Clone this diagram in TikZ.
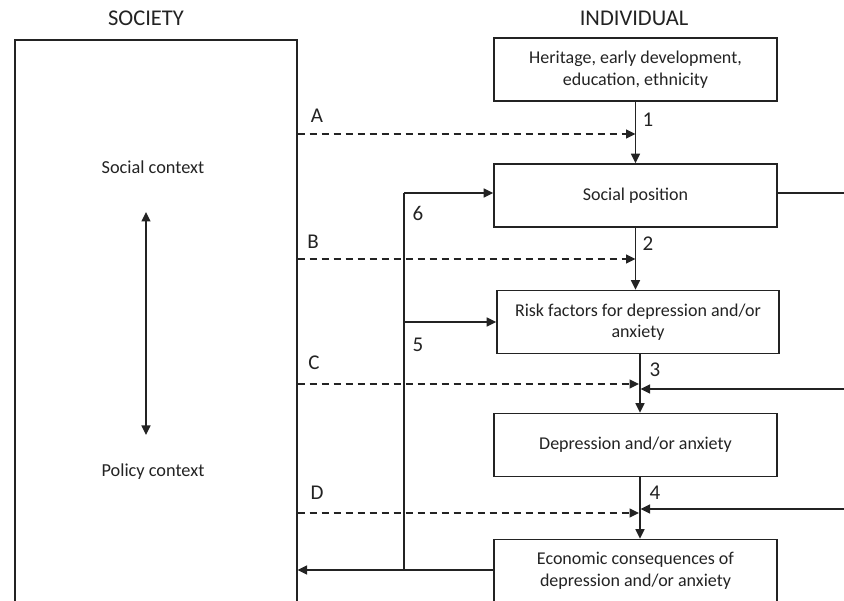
\documentclass[tikz,border=0pt]{standalone}
\usepackage{fontspec}
\setmainfont{Carlito}
\usetikzlibrary{arrows.meta}
\definecolor{ink}{RGB}{35,35,35}
\begin{document}
\begin{tikzpicture}[x=1pt,y=-1pt,
  every node/.style={text=ink},
  box/.style={draw=ink, line width=1.6pt, minimum width=283pt, minimum height=63pt, inner sep=0pt, align=center, font=\fontsize{18}{21.5}\selectfont},
  ln/.style={draw=ink, line width=1.6pt},
  tip/.tip={Triangle[length=9.5pt,width=9pt]},
  arr/.style={ln, -tip},
  darr/.style={ln, dash pattern=on 7pt off 5pt, -tip},
  hd/.style={font=\fontsize{22.5}{26}\selectfont, inner sep=0pt},
  lbl/.style={font=\fontsize{21}{24}\selectfont, inner sep=0pt},
  ctx/.style={font=\fontsize{18.3}{21}\selectfont, inner sep=0pt}]
\useasboundingbox (0,0) rectangle (844,601);
\clip (0,0) rectangle (844,601);
\fill[white] (0,0) rectangle (844,601);

% headings
\node[hd] (hsoc) at (146,18) {SOCIETY};
\node[hd] (hind) at (634,18) {INDIVIDUAL};

% society box
\node[draw=ink, line width=1.6pt, minimum width=282pt, minimum height=640pt, anchor=north west, inner sep=0pt] (society) at (14,39) {};
\node[ctx] (sctx) at (153,167) {Social context};
\node[ctx] (pctx) at (153,472) {Policy context};
\coordinate (dA) at (146,212);
\coordinate (dB) at (146,435);
\draw[ln, tip-tip] (dA) -- (dB);

% individual boxes
\node[box] (her) at (635.5,69.5) {Heritage, early development,\\education, ethnicity};
\node[box] (soc) at (635.5,195.5) {Social position};
\node[box, minimum width=282pt] (risk) at (638,322) {Risk factors for depression and/or\\anxiety};
\node[box] (dep) at (635.5,445) {Depression and/or anxiety};
\node[box] (eco) at (635.5,571) {Economic consequences of\\depression and/or anxiety};

% vertical arrows
\draw[arr] (her.south) -- (her.south |- soc.north);
\draw[arr] (soc.south) -- (soc.south |- risk.north);
\draw[arr] ([xshift=2pt]risk.south) -- ([xshift=2pt]risk.south |- dep.north);
\draw[arr] ([xshift=4.5pt]dep.south) -- ([xshift=4.5pt]dep.south |- eco.north);

% dashed arrows from society
\coordinate (a1) at (635.5,134);
\coordinate (b1) at (635.5,259);
\coordinate (c1) at (639,384);
\coordinate (d1) at (639,513);
\draw[darr] (society.east |- a1) -- (a1);
\draw[darr] (society.east |- b1) -- (b1);
\draw[darr] (society.east |- c1) -- (c1);
\draw[darr] (society.east |- d1) -- (d1);

% feedback lines 5 and 6
\coordinate (v6) at (404,193);
\coordinate (v5) at (404,322);
\coordinate (vb) at (404,570);
\draw[ln] (v6) -- (vb);
\draw[arr] (v6) -- (soc.west |- v6);
\draw[arr] (v5) -- (risk.west |- v5);
\draw[arr] (eco.west |- vb) -- (society.east |- vb);

% right-hand lines
\coordinate (r1) at (850,193);
\coordinate (r3) at (850,389);
\coordinate (r4) at (850,509);
\coordinate (t3) at (640.5,389);
\coordinate (t4) at (640.5,509);
\draw[ln] (soc.east |- r1) -- (r1);
\draw[arr] (r3) -- (t3);
\draw[arr] (r4) -- (t4);

% labels
\node[lbl] (lA) at (317,116) {A};
\node[lbl] (lB) at (313,242) {B};
\node[lbl] (lC) at (314,363) {C};
\node[lbl] (lD) at (317,493) {D};
\node[lbl] (l1) at (648,120) {1};
\node[lbl] (l2) at (648,244) {2};
\node[lbl] (l3) at (655,370) {3};
\node[lbl] (l4) at (655,493) {4};
\node[lbl] (l5) at (418,345) {5};
\node[lbl] (l6) at (418,213) {6};
\end{tikzpicture}
\end{document}
